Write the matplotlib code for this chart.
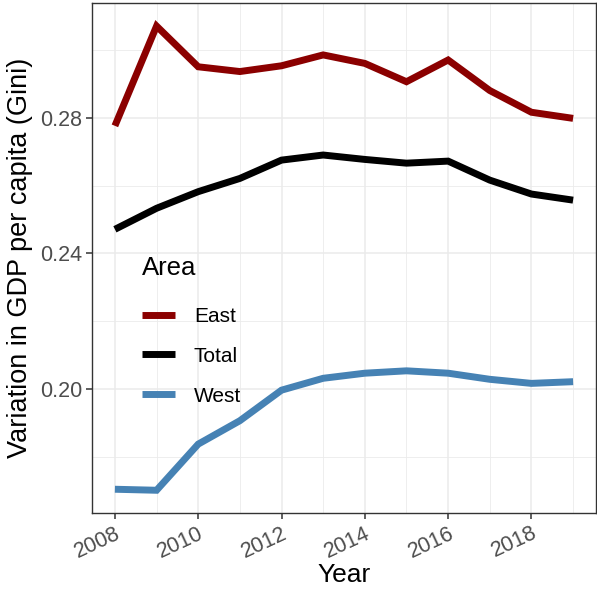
import matplotlib
matplotlib.use("Agg")
import matplotlib.pyplot as plt
from matplotlib.ticker import MultipleLocator

plt.rcParams['font.family'] = ['Liberation Sans', 'DejaVu Sans']

years = [2008, 2009, 2010, 2011, 2012, 2013, 2014, 2015, 2016, 2017, 2018, 2019]
east = [0.2776, 0.3070, 0.2950, 0.2936, 0.2953, 0.2985, 0.2960, 0.2906, 0.2970, 0.2880, 0.2816, 0.2798]
total = [0.2471, 0.2533, 0.2582, 0.2621, 0.2675, 0.2690, 0.2677, 0.2666, 0.2672, 0.2616, 0.2575, 0.2557]
west = [0.1705, 0.1702, 0.1838, 0.1907, 0.1997, 0.2032, 0.2047, 0.2054, 0.2047, 0.2029, 0.2017, 0.2022]
series_names = ["East", "Total", "West"]
series_colors = ["#8B0000", "#000000", "#4682B4"]
xticks = [2008, 2010, 2012, 2014, 2016, 2018]
yticks = [0.20, 0.24, 0.28]

fig = plt.figure(figsize=(5.97, 5.89), dpi=100)
ax = fig.add_axes([92/597, 1-513/589, (596-92)/597, (513-3)/589])

for name, vals, col in zip(series_names, [east, total, west], series_colors):
    ax.plot(years, vals, color=col, lw=5, label=name, solid_capstyle='butt', solid_joinstyle='miter')

ax.set_xlim(2007.45, 2019.55)
ax.set_ylim(0.1635, 0.3138)
ax.set_xticks(xticks)
ax.set_yticks(yticks)
ax.set_yticklabels([f"{v:.2f}" for v in yticks])
ax.xaxis.set_minor_locator(MultipleLocator(1))
ax.yaxis.set_minor_locator(MultipleLocator(0.02))
ax.grid(which='major', color='#EBEBEB', lw=1.1)
ax.grid(which='minor', color='#EBEBEB', lw=0.6)
ax.set_axisbelow(True)
ax.tick_params(which='minor', length=0)
ax.tick_params(which='major', length=4, width=1.1, color='#333333', labelcolor='#4D4D4D', labelsize=15.5, pad=3)
for lab in ax.get_xticklabels():
    lab.set_rotation(25)
    lab.set_ha('right')
    lab.set_va('top')
    lab.set_rotation_mode('anchor')
for s in ax.spines.values():
    s.set_color('#333333')
    s.set_linewidth(1)

ax.set_xlabel("Year", fontsize=19, labelpad=1)
ax.set_ylabel("Variation in GDP per capita (Gini)", fontsize=19.5, labelpad=5)

leg = ax.legend(loc='upper left', bbox_to_anchor=(0.099, 0.503), title="Area", frameon=False,
                fontsize=15, title_fontsize=18.5, handlelength=1.6, labelspacing=1.0,
                handletextpad=0.9, borderpad=0, borderaxespad=0)
leg._legend_box.align = "left"
leg._legend_box.sep = 19

fig.savefig("out.png", dpi=100)
